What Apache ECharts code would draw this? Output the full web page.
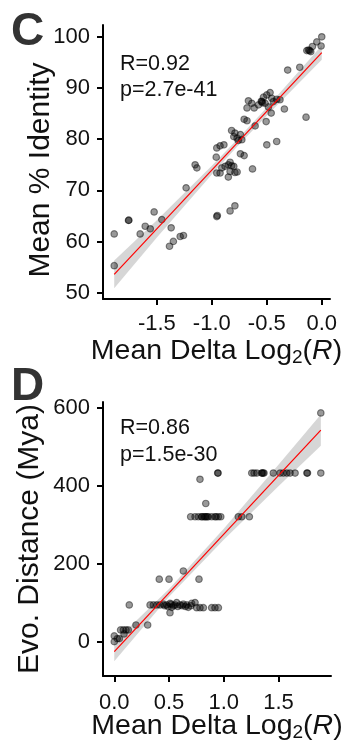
<!DOCTYPE html>
<html>
<head>
<meta charset="utf-8">
<script src="https://cdn.jsdelivr.net/npm/echarts@6/dist/echarts.min.js"></script>
<style>
html,body{margin:0;padding:0;background:#fff;}
#chart{width:351px;height:746px;}
</style>
</head>
<body>
<div id="chart"></div>
<script>
// ---------- Panel C data ----------
const cX = [0.0,-0.045,-0.006,-0.085,-0.11,-0.136,-0.10,-0.12,-0.20,-0.31,-0.143,
  -0.667,-0.636,-0.615,-0.576,-0.545,-0.55,-0.54,-0.53,-0.515,-0.50,-0.47,-0.455,-0.485,-0.44,-0.41,-0.38,-0.34,-0.46,-0.68,
  -0.706,-0.68,-0.606,-0.506,-0.82,-0.79,-0.77,-0.74,-0.76,-0.727,-0.80,-0.41,-0.50,
  -0.955,-0.925,-0.89,-0.96,-0.74,-0.706,-1.152,-1.136,
  -0.955,-0.925,-0.909,-0.88,-0.85,-0.834,-0.82,-0.80,-0.834,-0.79,-0.77,-0.85,-0.63,
  -1.234,-0.955,-0.95,-0.834,-0.79,-1.525,-1.758,-1.755,-1.455,-1.888,-1.652,-1.606,-1.56,-1.37,-1.288,-1.258,-1.385,-1.35,-1.888];
const cY = [100.0,99.0,98.2,98.1,97.3,97.3,97.1,97.4,94.05,93.5,84.3,
  87.5,87.0,86.1,86.7,87.35,87.4,87.1,88.2,87.0,88.65,89.1,88.0,86.3,87.35,87.8,87.7,85.9,85.1,86.1,
  83.9,83.6,82.6,83.45,81.7,81.2,80.2,80.9,79.75,79.9,80.5,79.55,78.9,
  78.3,78.7,78.9,76.5,77.15,76.8,75.0,74.4,
  73.4,73.4,74.4,74.7,75.0,75.5,74.8,74.7,73.7,73.5,73.6,72.6,74.2,
  70.5,64.9,65.1,66.0,67.0,65.8,64.15,64.2,64.3,61.5,61.5,63.0,62.5,62.7,61.0,61.2,59.1,60.05,55.3];
const cFitX = [-1.888, 0.0];
const cFitY = [53.6, 96.9];
const cBandX = [-1.888, -1.5, -1.0, -0.75, -0.5, 0.0];
const cBandLo = [50.9, 60.8, 73.1, 79.0, 84.6, 95.5];
const cBandHi = [56.3, 64.2, 74.8, 80.4, 86.2, 98.3];
const cYTicks = [50, 60, 70, 80, 90, 100];
const cXTicks = [-1.5, -1.0, -0.5, 0.0];
const cStats = ['R=0.92', 'p=2.7e-41'];

// ---------- Panel D data ----------
const dX = [1.887,1.887,1.76,1.765,
  1.256,1.277,1.302,1.347,1.35,1.36,1.368,1.453,1.515,1.545,1.576,1.606,1.652,
  0.945,0.948,0.783,0.836,
  0.698,0.738,0.768,0.799,0.80,0.82,0.83,0.838,0.85,0.859,0.89,0.92,0.93,0.951,0.973,
  1.133,1.165,1.234,
  0.631,0.411,0.5,0.774,0.137,
  0.327,0.357,0.388,0.418,0.448,0.479,0.509,0.525,0.555,0.57,0.6,0.631,0.662,0.676,0.707,0.738,0.753,0.783,0.814,0.89,0.92,0.951,
  0.46,0.49,0.52,0.54,0.58,0.62,0.65,0.70,
  0.509,0.198,0.305,0.058,0.083,0.107,0.128,0.089,0.0,0.027,0.046,0.0];
const dY = [586,432,432,432,
  432,432,432,432,432,432,432,432,432,432,432,432,432,
  432,432,416,354,
  320,320,320,320,320,320,320,320,320,320,320,320,320,320,320,
  320,320,320,
  181,160,160,160,94,
  94,94,94,94,96,94,98,88,94,100,94,96,94,88,98,100,87,87,87,87,87,87,
  92,90,96,92,90,92,90,92,
  74,42.7,42.7,30,30,30,30,19.7,14.6,7.7,7.7,0];
const dFitX = [0.0, 1.887];
const dFitY = [-25.6, 542];
const dBandX = [0.0, 0.5, 1.0, 1.5, 1.887];
const dBandLo = [-50, 115, 261, 398, 502];
const dBandHi = [-1, 135, 289, 453, 582];
const dYTicks = [0, 200, 400, 600];
const dXTicks = [0.0, 0.5, 1.0, 1.5];
const dStats = ['R=0.86', 'p=1.5e-30'];

const FONT = '"Liberation Sans", Arial, Helvetica, sans-serif';
const INK = '#111';

function pairs(xs, ys){ return xs.map((x,i)=>[x, ys[i]]); }

function bandSeries(idx, bx, lo, hi){
  return {
    type: 'custom', xAxisIndex: idx, yAxisIndex: idx, silent: true, z: 1,
    data: bx.map((x,i)=>[x, lo[i], hi[i]]),
    renderItem: function(params, api){
      if (params.dataIndex !== 0) return null;
      const pts = [];
      for (let i = 0; i < bx.length; i++) pts.push(api.coord([bx[i], lo[i]]));
      for (let i = bx.length - 1; i >= 0; i--) pts.push(api.coord([bx[i], hi[i]]));
      return {type: 'polygon', shape: {points: pts}, style: {fill: 'rgba(153,153,153,0.4)'}};
    }
  };
}

function xAxisCfg(idx, min, max, ticks, margin, gap){
  return {
    type: 'value', gridIndex: idx, min: min, max: max,
    axisLine: {show: true, onZero: false, lineStyle: {color: '#000', width: 2}},
    axisTick: {show: true, length: 6, lineStyle: {color: '#000', width: 2}, customValues: ticks},
    axisLabel: {customValues: ticks, margin: margin, fontSize: 22, fontFamily: FONT, color: INK,
      formatter: v => v.toFixed(1)},
    splitLine: {show: false},
    name: 'Mean Delta Log{sub|2}({it|R})', nameLocation: 'middle', nameGap: gap, nameMoveOverlap: false,
    nameTextStyle: {fontSize: 28.5, fontFamily: FONT, color: INK,
      rich: {sub: {fontSize: 19, fontFamily: FONT, color: INK, padding: [12, 0, 0, 0]},
             it: {fontSize: 28.5, fontStyle: 'italic', fontFamily: FONT, color: INK}}}
  };
}
function yAxisCfg(idx, min, max, ticks, name, gap, size, pad){
  return {
    type: 'value', gridIndex: idx, min: min, max: max,
    axisLine: {show: true, onZero: false, lineStyle: {color: '#000', width: 2}},
    axisTick: {show: true, length: 6, lineStyle: {color: '#000', width: 2}, customValues: ticks},
    axisLabel: {customValues: ticks, margin: 13, fontSize: 22, fontFamily: FONT, color: INK},
    splitLine: {show: false},
    name: name, nameLocation: 'middle', nameGap: gap, nameRotate: 90, nameMoveOverlap: false,
    nameTextStyle: {fontSize: size, fontFamily: FONT, color: INK, padding: pad}
  };
}

const pointStyle = {color: 'rgba(0,0,0,0.5)', borderColor: 'rgba(0,0,0,0.55)', borderWidth: 1.2};

const chart = echarts.init(document.getElementById('chart'), null, {renderer: 'canvas'});
chart.setOption({
  animation: false,
  backgroundColor: '#fff',
  grid: [
    {left: 103, top: 25, width: 227, height: 274},
    {left: 103, top: 402, width: 228, height: 274}
  ],
  xAxis: [
    xAxisCfg(0, -1.99, 0.075, cXTicks, 14, 37),
    xAxisCfg(1, -0.103, 1.98, dXTicks, 16, 35)
  ],
  yAxis: [
    yAxisCfg(0, 48.8, 102.3, cYTicks, 'Mean % Identity', 47, 30, [0, 16, 0, 0]),
    yAxisCfg(1, -88, 614, dYTicks, 'Evo. Distance (Mya)', 58, 30, [0, 0, 0, 0])
  ],
  graphic: [
    {type: 'text', left: 11, top: 9, style: {text: 'C', fontSize: 46, fontWeight: 'bold', fontFamily: FONT, fill: '#333'}},
    {type: 'text', left: 11, top: 364, style: {text: 'D', fontSize: 46, fontWeight: 'bold', fontFamily: FONT, fill: '#333'}},
    {type: 'text', left: 120, top: 51, style: {text: cStats.join('\n'), fontSize: 21.5, lineHeight: 26, fontFamily: FONT, fill: INK}},
    {type: 'text', left: 120, top: 415, style: {text: dStats.join('\n'), fontSize: 21.5, lineHeight: 27, fontFamily: FONT, fill: INK}}
  ],
  series: [
    bandSeries(0, cBandX, cBandLo, cBandHi),
    {type: 'scatter', xAxisIndex: 0, yAxisIndex: 0, data: pairs(cX, cY), symbolSize: 6.5, itemStyle: pointStyle, z: 2},
    {type: 'line', xAxisIndex: 0, yAxisIndex: 0, data: pairs(cFitX, cFitY), showSymbol: false, silent: true,
     lineStyle: {color: '#ff0000', width: 1.2}, z: 3},
    bandSeries(1, dBandX, dBandLo, dBandHi),
    {type: 'scatter', xAxisIndex: 1, yAxisIndex: 1, data: pairs(dX, dY), symbolSize: 6.5, itemStyle: pointStyle, z: 2},
    {type: 'line', xAxisIndex: 1, yAxisIndex: 1, data: pairs(dFitX, dFitY), showSymbol: false, silent: true,
     lineStyle: {color: '#ff0000', width: 1.2}, z: 3}
  ]
});
</script>
</body>
</html>
